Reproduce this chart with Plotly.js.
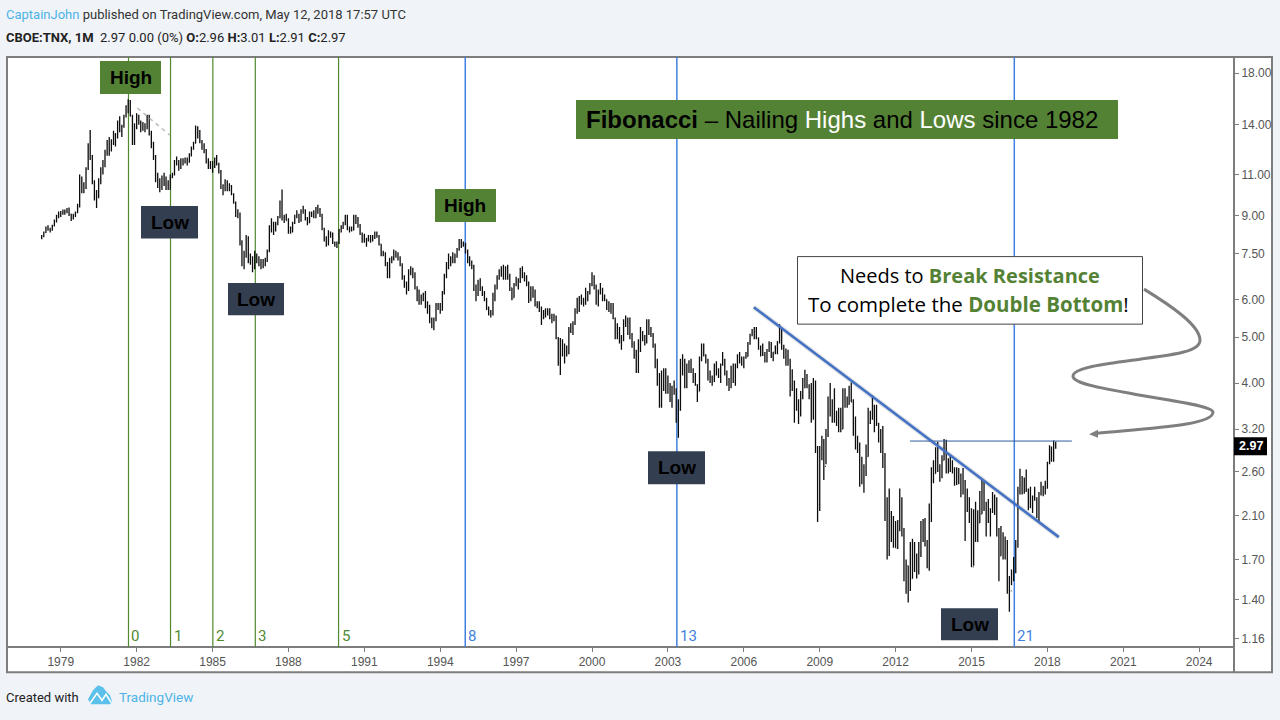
<!DOCTYPE html>
<html><head><meta charset="utf-8">
<script src="https://cdn.plot.ly/plotly-3.0.1.min.js"></script>
<style>html,body{margin:0;padding:0;background:#f0f3f8}#c{width:1280px;height:720px}</style></head>
<body><div id="c"></div>
<script>
// Monthly bars of CBOE:TNX, April 1978 to May 2018, one row per calendar year
const firstYear = 1978, firstMonth = 4;
const opens = [
8.08,8.15,8.30,8.48,8.42,8.40,8.60,8.75,9.00,
9.05,9.12,9.15,9.18,9.22,9.08,8.90,9.00,9.15,9.40,10.60,10.45,
10.30,11.30,12.50,12.00,10.60,9.90,9.90,10.70,11.30,11.50,12.20,12.70,
12.45,12.80,13.30,13.20,14.10,13.60,13.90,14.60,15.30,15.60,14.60,12.80,
13.80,14.30,14.20,13.80,13.90,13.80,14.60,13.40,12.80,12.00,10.70,10.60,
10.40,10.80,10.50,10.50,10.40,10.90,11.00,11.70,11.60,11.40,11.80,11.70,
11.80,11.70,12.10,12.50,12.80,13.80,13.60,12.90,12.60,12.40,11.70,11.50,
11.55,11.40,11.90,11.60,11.20,10.30,10.40,10.60,10.20,10.40,10.00,9.60,
9.00,9.10,7.90,7.30,7.40,8.05,7.30,7.30,7.00,7.40,7.30,7.10,
7.20,7.10,7.25,7.60,8.40,8.70,8.40,8.65,8.95,9.60,8.90,8.95,
8.80,8.35,8.50,8.70,9.00,9.05,8.80,9.20,9.25,8.90,8.70,9.10,
9.10,8.95,9.30,9.25,9.05,8.45,8.10,7.85,8.25,8.25,7.90,7.85,
7.90,8.40,8.50,8.65,9.00,8.45,8.40,8.40,8.95,8.80,8.60,8.25,
8.05,8.00,8.00,8.05,8.00,8.10,8.25,8.15,7.85,7.45,7.45,7.10,
6.70,7.25,7.30,7.55,7.45,7.30,7.10,6.70,6.50,6.35,6.85,6.95,
6.70,6.35,6.00,6.05,6.05,6.15,5.80,5.80,5.45,5.35,5.45,5.85,
5.80,5.70,6.20,6.75,7.00,7.20,7.30,7.25,7.40,7.65,7.90,7.90,
7.85,7.60,7.20,7.20,7.05,6.30,6.20,6.45,6.30,6.15,6.00,5.75,
5.60,5.60,6.10,6.35,6.65,6.85,6.75,6.80,7.00,6.70,6.35,6.05,
6.45,6.55,6.55,6.90,6.70,6.65,6.50,6.00,6.30,6.10,5.85,5.85,
5.75,5.50,5.60,5.65,5.65,5.55,5.45,5.50,4.98,4.40,4.61,4.72,
4.65,4.65,5.15,5.25,5.35,5.65,5.80,6.05,5.95,5.90,6.05,6.20,
6.45,6.68,6.40,6.00,6.20,6.30,6.03,6.00,5.73,5.80,5.75,5.47,
5.11,5.10,4.88,4.92,5.35,5.38,5.41,5.05,4.83,4.59,4.23,4.75,
5.05,5.03,4.88,5.40,5.09,5.04,4.80,4.46,4.14,3.60,3.90,4.21,
3.82,3.96,3.69,3.80,3.85,3.37,3.52,4.41,4.46,3.94,4.29,4.33,
4.25,4.13,3.97,3.84,4.51,4.65,4.58,4.48,4.12,4.12,4.03,4.36,
4.22,4.14,4.38,4.48,4.20,4.00,3.92,4.28,4.02,4.33,4.56,4.49,
4.39,4.53,4.55,4.85,5.05,5.12,5.14,4.98,4.73,4.63,4.60,4.46,
4.70,4.82,4.56,4.65,4.63,4.89,5.03,4.74,4.53,4.59,4.47,3.94,
4.03,3.59,3.51,3.45,3.77,4.06,3.97,3.95,3.81,3.83,3.95,2.92,
2.22,2.84,3.01,2.67,3.12,3.46,3.54,3.48,3.40,3.31,3.38,3.20,
3.84,3.60,3.61,3.83,3.65,3.29,2.93,2.91,2.47,2.51,2.60,2.80,
3.29,3.37,3.46,3.47,3.29,3.06,3.16,2.80,2.22,1.92,2.11,2.07,
1.88,1.80,1.97,2.21,1.91,1.58,1.65,1.47,1.55,1.63,1.69,1.61,
1.76,1.98,1.87,1.85,1.67,2.13,2.49,2.58,2.78,2.62,2.55,2.75,
3.03,2.64,2.65,2.72,2.64,2.47,2.53,2.56,2.34,2.49,2.34,2.16,
2.17,1.64,2.00,1.92,2.03,2.12,2.35,2.18,2.21,2.04,2.14,2.21,
2.27,1.92,1.73,1.77,1.83,1.85,1.47,1.46,1.58,1.60,1.83,2.37,
2.44,2.45,2.39,2.39,2.28,2.20,2.31,2.29,2.12,2.33,2.38,2.41,
2.40,2.72,2.86,2.74,2.96];
const highs = [
8.20,8.35,8.55,8.60,8.50,8.62,8.85,9.05,9.20,
9.22,9.28,9.28,9.35,9.38,9.10,9.10,9.20,9.55,11.00,10.90,10.60,
11.40,12.80,13.65,12.10,10.70,10.20,10.80,11.40,11.80,12.40,13.00,13.20,
13.05,13.60,13.45,14.30,14.60,14.00,14.70,15.40,15.84,15.80,14.70,14.10,
14.80,14.70,14.30,14.20,14.10,14.70,14.70,13.60,12.90,12.10,11.10,10.80,
10.95,11.10,10.90,10.70,11.00,11.10,11.80,12.00,11.80,11.90,11.90,11.95,
11.95,12.20,12.60,12.90,13.95,13.90,13.65,13.00,12.80,12.45,11.90,11.75,
11.75,11.95,12.10,11.65,11.25,10.50,10.75,10.70,10.55,10.45,10.05,9.65,
9.30,9.15,8.00,7.60,8.20,8.15,7.50,7.40,7.60,7.50,7.40,7.30,
7.30,7.35,7.65,8.60,8.90,8.75,8.75,9.00,9.70,10.23,9.05,9.10,
8.90,8.55,8.75,9.05,9.25,9.10,9.30,9.45,9.30,8.95,9.20,9.20,
9.25,9.40,9.50,9.35,9.10,8.50,8.15,8.40,8.35,8.30,7.95,7.95,
8.45,8.60,8.75,9.05,9.05,8.55,8.55,9.05,9.05,8.95,8.65,8.30,
8.25,8.10,8.20,8.20,8.20,8.35,8.35,8.20,7.85,7.60,7.55,7.20,
7.35,7.40,7.65,7.60,7.55,7.40,7.15,6.75,6.55,6.95,7.05,7.00,
6.85,6.40,6.30,6.15,6.20,6.25,5.95,5.85,5.50,5.50,5.90,5.90,
5.90,6.25,6.80,7.20,7.50,7.40,7.55,7.50,7.70,8.05,8.05,7.95,
7.90,7.65,7.40,7.25,7.10,6.45,6.60,6.65,6.40,6.25,6.05,5.80,
5.70,6.20,6.45,6.75,6.95,7.05,7.10,7.05,7.10,6.80,6.35,6.50,
6.70,6.65,7.00,7.05,6.85,6.75,6.55,6.40,6.40,6.30,5.95,5.95,
5.80,5.70,5.75,5.75,5.75,5.60,5.60,5.55,5.00,4.98,4.95,4.85,
4.80,5.25,5.35,5.40,5.75,6.05,6.10,6.15,6.05,6.35,6.25,6.50,
6.85,6.75,6.45,6.30,6.50,6.35,6.15,6.00,5.95,5.90,5.90,5.50,
5.35,5.25,5.05,5.45,5.55,5.50,5.50,5.10,4.90,4.70,4.95,5.25,
5.15,5.05,5.45,5.45,5.25,5.10,4.85,4.50,4.20,4.25,4.30,4.30,
4.15,4.00,3.95,4.05,3.90,3.70,4.50,4.60,4.50,4.40,4.47,4.50,
4.30,4.20,3.98,4.55,4.85,4.85,4.60,4.50,4.25,4.15,4.40,4.45,
4.30,4.40,4.65,4.50,4.25,4.10,4.35,4.40,4.40,4.60,4.65,4.55,
4.55,4.65,4.88,5.08,5.20,5.25,5.25,4.99,4.80,4.85,4.65,4.72,
4.90,4.88,4.65,4.80,4.90,5.32,5.20,4.82,4.73,4.70,4.50,4.28,
4.05,3.90,3.70,3.85,4.10,4.27,4.18,3.98,4.00,4.10,4.05,2.95,
2.95,3.10,3.05,3.20,3.75,4.00,3.70,3.90,3.50,3.55,3.55,3.90,
3.90,3.75,3.95,4.01,3.70,3.40,3.10,3.00,2.80,2.70,2.97,3.55,
3.50,3.77,3.60,3.60,3.30,3.20,3.25,2.85,2.30,2.40,2.15,2.10,
2.05,2.06,2.40,2.30,1.98,1.70,1.65,1.85,1.88,1.85,1.75,1.85,
2.05,2.07,2.08,1.87,2.23,2.66,2.75,2.93,3.01,2.70,2.82,3.05,
3.04,2.78,2.83,2.75,2.66,2.66,2.65,2.58,2.65,2.50,2.40,2.30,
2.18,2.17,2.25,2.16,2.37,2.50,2.48,2.25,2.28,2.18,2.36,2.33,
2.30,1.98,2.00,1.94,1.90,1.87,1.57,1.62,1.72,1.87,2.42,2.64,
2.55,2.53,2.63,2.40,2.42,2.32,2.42,2.30,2.36,2.48,2.43,2.49,
2.73,2.96,2.94,3.03,3.01];
const lows = [
8.04,8.12,8.28,8.38,8.30,8.38,8.55,8.72,8.90,
8.95,9.05,9.05,9.12,9.00,8.78,8.85,8.95,9.12,9.38,10.05,10.05,
10.25,11.25,11.80,10.50,9.70,9.35,9.80,10.50,11.00,11.40,12.05,12.05,
12.30,12.70,12.60,13.10,13.50,13.20,13.80,14.50,14.80,14.60,12.70,12.70,
13.70,14.00,13.50,13.60,13.50,13.70,13.30,12.50,11.80,10.60,10.30,10.10,
10.20,10.40,10.20,10.20,10.20,10.80,10.95,11.50,11.20,11.30,11.50,11.60,
11.50,11.65,12.00,12.40,12.80,13.10,12.80,12.40,12.20,11.60,11.30,11.30,
11.10,11.35,11.50,11.05,10.25,9.95,10.15,10.15,10.15,9.95,9.55,8.95,
8.90,7.80,7.05,6.95,7.35,7.15,7.10,6.85,6.95,7.15,7.05,6.95,
6.98,7.05,7.20,7.55,8.30,8.20,8.35,8.60,8.90,8.80,8.70,8.80,
8.25,8.25,8.30,8.65,8.90,8.70,8.75,9.10,8.80,8.60,8.70,8.95,
8.90,8.90,9.10,8.95,8.40,7.95,7.75,7.80,8.10,7.85,7.75,7.70,
7.85,8.30,8.45,8.60,8.40,8.30,8.35,8.40,8.65,8.50,8.20,7.90,
7.90,7.75,7.95,7.90,7.95,8.05,8.10,7.80,7.40,7.40,7.05,6.65,
6.65,7.15,7.25,7.35,7.25,7.05,6.60,6.35,6.15,6.25,6.75,6.65,
6.30,5.95,5.85,5.85,5.95,5.75,5.60,5.35,5.22,5.17,5.40,5.70,
5.60,5.68,6.15,6.65,6.95,7.05,7.15,7.15,7.35,7.60,7.70,7.75,
7.50,7.15,7.05,6.95,6.25,5.95,6.10,6.25,6.10,5.95,5.70,5.55,
5.50,5.55,5.95,6.30,6.60,6.70,6.60,6.60,6.60,6.25,5.98,6.05,
6.40,6.30,6.50,6.65,6.55,6.40,5.90,5.95,6.05,5.80,5.75,5.65,
5.30,5.45,5.50,5.55,5.45,5.35,5.40,4.95,4.35,4.16,4.55,4.40,
4.55,4.60,5.10,5.05,5.30,5.60,5.65,5.85,5.80,5.85,5.95,6.15,
6.40,6.30,5.85,5.80,6.15,5.95,5.95,5.70,5.65,5.60,5.45,4.95,
4.95,4.85,4.70,4.90,5.25,5.05,4.95,4.75,4.50,4.20,4.20,4.65,
4.90,4.80,4.85,5.05,5.00,4.75,4.30,3.95,3.55,3.55,3.85,3.80,
3.80,3.65,3.55,3.78,3.30,3.07,3.50,4.15,3.90,3.90,4.20,4.20,
4.00,3.95,3.65,3.85,4.45,4.55,4.40,4.05,4.00,3.95,4.02,4.15,
4.10,4.00,4.35,4.15,3.95,3.85,3.90,4.00,3.95,4.30,4.40,4.35,
4.30,4.50,4.55,4.82,5.02,4.95,4.95,4.70,4.55,4.56,4.42,4.42,
4.65,4.52,4.45,4.60,4.60,4.85,4.70,4.50,4.35,4.35,3.75,3.85,
3.30,3.50,3.28,3.40,3.70,3.90,3.90,3.70,3.30,3.35,2.85,2.04,
2.15,2.75,2.50,2.70,3.08,3.40,3.30,3.30,3.25,3.15,3.15,3.20,
3.55,3.55,3.60,3.65,3.10,2.90,2.85,2.42,2.45,2.35,2.55,2.80,
3.28,3.35,3.15,3.25,3.00,2.85,2.65,2.05,1.70,1.73,1.85,1.80,
1.80,1.79,1.95,1.90,1.53,1.44,1.38,1.46,1.55,1.60,1.55,1.58,
1.72,1.85,1.81,1.63,1.61,2.04,2.46,2.58,2.60,2.48,2.52,2.75,
2.58,2.58,2.60,2.58,2.43,2.44,2.45,2.30,2.33,1.86,2.14,2.03,
1.64,1.65,1.85,1.85,2.03,2.12,2.15,1.90,2.03,1.90,2.13,2.11,
1.90,1.53,1.73,1.70,1.70,1.44,1.32,1.50,1.53,1.59,1.80,2.33,
2.33,2.34,2.36,2.16,2.18,2.13,2.26,2.08,2.03,2.32,2.31,2.33,
2.40,2.70,2.73,2.73,2.91];
const closes = [
8.15,8.30,8.48,8.42,8.40,8.60,8.75,9.00,9.05,
9.12,9.15,9.18,9.22,9.08,8.90,9.00,9.15,9.40,10.60,10.45,10.30,
11.30,12.50,12.00,10.60,9.90,9.90,10.70,11.30,11.50,12.20,12.70,12.45,
12.80,13.30,13.20,14.10,13.60,13.90,14.60,15.30,15.60,14.60,12.80,13.80,
14.30,14.20,13.80,13.90,13.80,14.60,13.40,12.80,12.00,10.70,10.60,10.40,
10.80,10.50,10.50,10.40,10.90,11.00,11.70,11.60,11.40,11.80,11.70,11.80,
11.70,12.10,12.50,12.80,13.80,13.60,12.90,12.60,12.40,11.70,11.50,11.55,
11.40,11.90,11.60,11.20,10.30,10.40,10.60,10.20,10.40,10.00,9.60,9.00,
9.10,7.90,7.30,7.40,8.05,7.30,7.30,7.00,7.40,7.30,7.10,7.20,
7.10,7.25,7.60,8.40,8.70,8.40,8.65,8.95,9.60,8.90,8.95,8.80,
8.35,8.50,8.70,9.00,9.05,8.80,9.20,9.25,8.90,8.70,9.10,9.10,
8.95,9.30,9.25,9.05,8.45,8.10,7.85,8.25,8.25,7.90,7.85,7.90,
8.40,8.50,8.65,9.00,8.45,8.40,8.40,8.95,8.80,8.60,8.25,8.05,
8.00,8.00,8.05,8.00,8.10,8.25,8.15,7.85,7.45,7.45,7.10,6.70,
7.25,7.30,7.55,7.45,7.30,7.10,6.70,6.50,6.35,6.85,6.95,6.70,
6.35,6.00,6.05,6.05,6.15,5.80,5.80,5.45,5.35,5.45,5.85,5.80,
5.70,6.20,6.75,7.00,7.20,7.30,7.25,7.40,7.65,7.90,7.90,7.85,
7.60,7.20,7.20,7.05,6.30,6.20,6.45,6.30,6.15,6.00,5.75,5.60,
5.60,6.10,6.35,6.65,6.85,6.75,6.80,7.00,6.70,6.35,6.05,6.45,
6.55,6.55,6.90,6.70,6.65,6.50,6.00,6.30,6.10,5.85,5.85,5.75,
5.50,5.60,5.65,5.65,5.55,5.45,5.50,4.98,4.40,4.61,4.72,4.65,
4.65,5.15,5.25,5.35,5.65,5.80,6.05,5.95,5.90,6.05,6.20,6.45,
6.68,6.40,6.00,6.20,6.30,6.03,6.00,5.73,5.80,5.75,5.47,5.11,
5.10,4.88,4.92,5.35,5.38,5.41,5.05,4.83,4.59,4.23,4.75,5.05,
5.03,4.88,5.40,5.09,5.04,4.80,4.46,4.14,3.60,3.90,4.21,3.82,
3.96,3.69,3.80,3.85,3.37,3.52,4.41,4.46,3.94,4.29,4.33,4.25,
4.13,3.97,3.84,4.51,4.65,4.58,4.48,4.12,4.12,4.03,4.36,4.22,
4.14,4.38,4.48,4.20,4.00,3.92,4.28,4.02,4.33,4.56,4.49,4.39,
4.53,4.55,4.85,5.05,5.12,5.14,4.98,4.73,4.63,4.60,4.46,4.70,
4.82,4.56,4.65,4.63,4.89,5.03,4.74,4.53,4.59,4.47,3.94,4.03,
3.59,3.51,3.45,3.77,4.06,3.97,3.95,3.81,3.83,3.95,2.92,2.22,
2.84,3.01,2.67,3.12,3.46,3.54,3.48,3.40,3.31,3.38,3.20,3.84,
3.60,3.61,3.83,3.65,3.29,2.93,2.91,2.47,2.51,2.60,2.80,3.29,
3.37,3.46,3.47,3.29,3.06,3.16,2.80,2.22,1.92,2.11,2.07,1.88,
1.80,1.97,2.21,1.91,1.58,1.65,1.47,1.55,1.63,1.69,1.61,1.76,
1.98,1.87,1.85,1.67,2.13,2.49,2.58,2.78,2.62,2.55,2.75,3.03,
2.64,2.65,2.72,2.64,2.47,2.53,2.56,2.34,2.49,2.34,2.16,2.17,
1.64,2.00,1.92,2.03,2.12,2.35,2.18,2.21,2.04,2.14,2.21,2.27,
1.92,1.73,1.77,1.83,1.85,1.47,1.46,1.58,1.60,1.83,2.37,2.44,
2.45,2.39,2.39,2.28,2.20,2.31,2.29,2.12,2.33,2.38,2.41,2.40,
2.72,2.86,2.74,2.95,2.97];

const yTicks = [1.16,1.40,1.70,2.10,2.60,3.20,4.00,5.00,6.00,7.50,9.00,11.00,14.00,18.00];
const yearTicks = [1979,1982,1985,1988,1991,1994,1997,2000,2003,2006,2009,2012,2015,2018,2021,2024];
const fibDates = ['1981-09-05','1983-05-05','1985-01-05','1986-09-10','1989-12-25','1994-12-28','2003-05-10','2016-09-10'];
const fibLabels = ['0','1','2','3','5','8','13','21'];
const fibColors = ['#4f8a2f','#4f8a2f','#4f8a2f','#4f8a2f','#4f8a2f','#3f80e0','#3f80e0','#3f80e0'];
const trendX = ['2006-05-25','2018-06-15'];
const trendY = [5.78,1.895];
const resistanceX = ['2012-07-27','2018-12-20'];
const resistanceY = [3.02,3.02];
const dashX = ['1982-01-10','1983-04-25'];
const dashY = [15.19,13.32];
const lastPrice = 2.97;

const dates = [];
{let y = firstYear, m = firstMonth;
 for (let i = 0; i < closes.length; i++) {
   dates.push(y + '-' + String(m).padStart(2,'0') + '-01');
   m++; if (m > 12) { m = 1; y++; }
 }}

// page pixels -> paper fractions (plot area 7..1234 x 57..646.7)
const L=7,R=1234,T=57,B=646.7;
const px=x=>(x-L)/(R-L), py=y=>1-(y-T)/(B-T);
const PT=(x,y)=>px(x).toFixed(5)+','+py(y).toFixed(5);
const rect=(x0,y0,x1,y1,fill,line,layer)=>({type:'rect',xref:'paper',yref:'paper',x0:px(x0),x1:px(x1),y0:py(y0),y1:py(y1),fillcolor:fill,line:line||{width:0},layer:layer||'above'});
const SANS='"Liberation Sans",Arial,sans-serif', OPEN='"Open Sans",sans-serif', ROBO='Roboto,sans-serif';
const text=(x,y,t,size,color,family,anchor)=>({xref:'paper',yref:'paper',x:px(x),y:py(y),text:t,showarrow:false,xanchor:anchor||'center',yanchor:'middle',font:{size:size,color:color,family:family||SANS},borderpad:0,borderwidth:0});

const GREEN='#548235', NAVY='#333f50', CHROME='#7d7d7d';
const shapes=[
 rect(7,57,1272,672,'#ffffff',{color:CHROME,width:2},'below'),
 {type:'line',xref:'paper',yref:'paper',x0:px(1234),x1:px(1234),y0:py(57),y1:py(672),line:{color:CHROME,width:2},layer:'below'},
 {type:'line',xref:'paper',yref:'paper',x0:px(7),x1:px(1234),y0:py(646.7),y1:py(646.7),line:{color:CHROME,width:2},layer:'below'},
];
fibDates.forEach((d,i)=>shapes.push({type:'line',xref:'x',yref:'paper',x0:d,x1:d,y0:0,y1:1,line:{color:fibColors[i],width:i>4?1.5:1.2},layer:'below'}));
shapes.push(
 rect(100,61,161,94,GREEN),
 rect(141,206,198,238.5,NAVY),
 rect(228,283,284,315,NAVY),
 rect(435,189,496,222,GREEN),
 rect(648,451,705,484,NAVY),
 rect(941,608,998,640,NAVY),
 rect(576,100,1118,139,GREEN),
 rect(797.5,256.5,1142.5,324,'#ffffff',{color:'#444444',width:1}),
 {type:'path',xref:'paper',yref:'paper',layer:'above',line:{color:'#7f7f7f',width:3},
  path:'M'+PT(1144,289)+' C'+PT(1170,305)+' '+PT(1200,325)+' '+PT(1200,340)+' C'+PT(1200,352)+' '+PT(1170,355)+' '+PT(1140,359)+' C'+PT(1110,363)+' '+PT(1073,367)+' '+PT(1073,376)+' C'+PT(1073,383)+' '+PT(1100,388)+' '+PT(1130,393)+' C'+PT(1165,400)+' '+PT(1213,405)+' '+PT(1213,412)+' C'+PT(1213,425)+' '+PT(1150,428)+' '+PT(1097,433)},
 {type:'path',xref:'paper',yref:'paper',layer:'above',fillcolor:'#7f7f7f',line:{width:0},path:'M'+PT(1089,434)+' L'+PT(1098,429.5)+' L'+PT(1098,437.5)+' Z'},
 rect(1234,437,1267,455,'#000000'),
 // TradingView logo
 {type:'path',xref:'paper',yref:'paper',layer:'above',fillcolor:'#5bc0ea',line:{width:0},
  path:'M'+PT(88,699)+' L'+PT(93,690)+' L'+PT(98,685)+' L'+PT(103,687)+' L'+PT(106,691)+' L'+PT(110,695)+' L'+PT(112,701)+' L'+PT(110,704)+' L'+PT(91,704)+' Z'},
 {type:'path',xref:'paper',yref:'paper',layer:'above',line:{color:'#ffffff',width:1.6},
  path:'M'+PT(90,703)+' L'+PT(97,693)+' L'+PT(102,700)+' L'+PT(106,694)+' L'+PT(111,702)}
);

const annotations=[
 text(6,15,'<span style="color:#4db3e6">CaptainJohn</span> published on TradingView.com, May 12, 2018 17:57 UTC',13,'#333333',ROBO,'left'),
 text(6,38,'<b>CBOE:TNX, 1M</b>  2.97 0.00 (0%) <b>O:</b>2.96 <b>H:</b>3.01 <b>L:</b>2.91 <b>C:</b>2.97',13,'#222222',ROBO,'left'),
 text(131,77.5,'<b>High</b>',19,'#000000'),
 text(169.5,222,'<b>Low</b>',19,'#000000'),
 text(256,299,'<b>Low</b>',19,'#000000'),
 text(465.5,205.5,'<b>High</b>',19,'#000000'),
 text(676.5,467.5,'<b>Low</b>',19,'#000000'),
 text(969.5,624,'<b>Low</b>',19,'#000000'),
 text(842,119.5,'<b>Fibonacci</b> – Nailing <span style="color:#ffffff">Highs</span> and <span style="color:#ffffff">Lows</span> since 1982',24,'#000000'),
 text(970,275,'Needs to <b><span style="color:#548235">Break Resistance</span></b>',20,'#000000',OPEN),
 text(969,304,'To complete the <b><span style="color:#548235">Double Bottom</span></b>!',20.5,'#000000',OPEN),
 text(1250.5,446,'<b>'+lastPrice.toFixed(2)+'</b>',12.5,'#ffffff'),
 text(6,697,'Created with',13,'#222222',ROBO,'left'),
 text(119,697,'TradingView',13.5,'#4db3e6',ROBO,'left')
];
fibDates.forEach((d,i)=>annotations.push({xref:'x',yref:'paper',x:d,y:py(635.5),text:fibLabels[i],showarrow:false,xanchor:'left',yanchor:'middle',xshift:1,font:{size:15,color:fibColors[i],family:ROBO}}));

const traces=[
 {type:'ohlc',x:dates,open:opens,high:highs,low:lows,close:closes,tickwidth:0.35,
  increasing:{line:{color:'#0c0c0c',width:1.3}},decreasing:{line:{color:'#0c0c0c',width:1.3}},hoverinfo:'skip'},
 {type:'scatter',mode:'lines',x:dashX,y:dashY,line:{color:'#bdbdbd',width:1.5,dash:'4px,4px'},hoverinfo:'skip'},
 {type:'scatter',mode:'lines',x:resistanceX,y:resistanceY,line:{color:'#2f5b9c',width:1},hoverinfo:'skip'},
 {type:'scatter',mode:'lines',x:trendX,y:trendY,line:{color:'rgba(0,0,0,0.10)',width:5},hoverinfo:'skip'},
 {type:'scatter',mode:'lines',x:trendX,y:trendY,line:{color:'#4472c4',width:2.6},hoverinfo:'skip'}
];

const layout={
 width:1280,height:720,showlegend:false,
 paper_bgcolor:'#f0f3f8',plot_bgcolor:'rgba(0,0,0,0)',
 margin:{l:L,r:1280-R,t:T,b:720-B,pad:0},
 xaxis:{type:'date',range:['1976-11-16','2025-05-18'],rangeslider:{visible:false},
  tickmode:'array',tickvals:yearTicks.map(y=>y+'-01-01'),ticktext:yearTicks.map(String),
  ticks:'outside',ticklen:4,tickcolor:CHROME,tickfont:{family:SANS,size:12,color:'#555555'},showgrid:false,zeroline:false,showline:false},
 yaxis:{type:'log',side:'right',range:[0.0462,1.289],tickmode:'array',tickvals:yTicks,ticktext:yTicks.map(v=>v.toFixed(2)),
  ticks:'outside',ticklen:4,tickcolor:CHROME,tickfont:{family:SANS,size:12,color:'#555555'},showgrid:false,zeroline:false,showline:false},
 shapes:shapes,annotations:annotations
};
Plotly.newPlot('c',traces,layout,{displayModeBar:false,staticPlot:true});
</script></body></html>
